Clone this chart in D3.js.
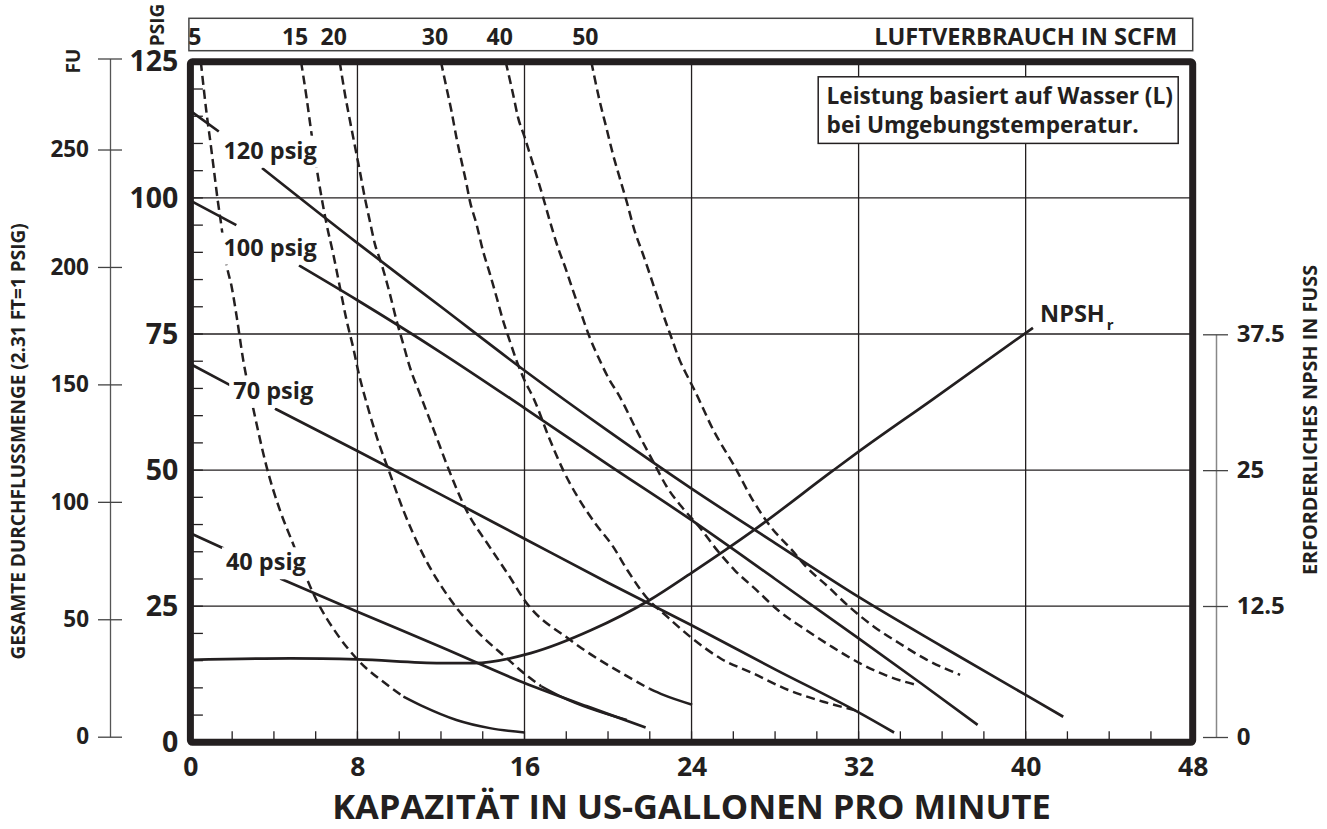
<!DOCTYPE html>
<html><head><meta charset="utf-8">
<script src="https://cdn.jsdelivr.net/npm/d3@7"></script>
<style>
html,body{margin:0;padding:0;background:#fff;}
svg{display:block;}
text{font-family:"Open Sans",sans-serif;font-weight:700;fill:#231f20;}
</style></head><body>
<svg id="chart" width="1327" height="829"></svg>
<script>
// ---------- data ----------
const xTicks = [0, 8, 16, 24, 32, 40, 48];
const yTicks = [0, 25, 50, 75, 100, 125];
const ftTicks = [0, 50, 100, 150, 200, 250];
const npshTicks = [0, 12.5, 25, 37.5];
const scfmNames = ["5", "15", "20", "30", "40", "50"];

// pump curves [gpm, psig]; null = break where the label sits
const pump120 = [[0,116.0],[1.36,112.2],null,[3.43,105.5],[8,91.7],[12,80.0],[16,68.3],[20,57.2],[24,46.6],[28,36.6],[32,26.7],[36,17.6],[40,8.7],[41.8,4.7]];
const pump100 = [[0,99.5],[2.2,95.0],null,[5.2,87.6],[8,81.2],[12,71.6],[16,61.4],[20,51.0],[24,40.8],[28,30.0],[32,19.1],[35,10.8],[37.7,3.2]];
const pump70  = [[0,69.5],[1.9,65.6],null,[4.05,61.3],[8,53.5],[12,45.5],[16,37.4],[20,29.3],[24,21.5],[28,13.4],[32,5.5],[33.7,1.8]];
const pump40  = [[0,38.4],[1.6,35.6],null,[4.3,30.1],[8,24.0],[12,17.5],[16,10.9],[19,6.6],[21.8,2.7]];

// air consumption curves (SCFM) [gpm, psig]
const scfm5  = [[0.5,125],[0.65,119.7],[0.78,115.4],[0.97,109.9],[1.13,105.0],[1.31,99.5],[1.45,95.8],[1.74,87.6],[1.98,83.6],[2.22,78.1],[2.53,70.2],[3.01,61.3],[3.65,50.6],[4.29,42.6],[4.85,37.1],[6.04,26.1],[7.0,20.0],[8.03,15.1],[9.55,10.2],[10.2,8.4]];
const scfm5Tail = [[10.2,8.4],[11.14,6.6],[12.74,4.1],[14.34,2.6],[16.0,1.8]];
const scfm15 = [[5.3,125],[5.56,118.5],[5.76,112.9],[6.04,105.6],[6.28,100.1],[6.52,95.2],[6.84,89.7],[7.16,83.6],[7.48,77.5],[7.79,72.6],[8.03,68.3],[8.5,61.5],[8.95,55.8],[9.55,49.4],[10.2,42.6],[11.1,34.8],[12.4,26.5],[13.7,20.5],[15.1,15.6],[16.1,12.3],[16.8,10.3]];
const scfm15Tail = [[16.8,10.3],[17.85,8.2],[20.9,4.1]];
const scfm20 = [[7.15,125],[7.40,119.1],[7.64,114.2],[7.92,108.7],[8.11,105.0],[8.35,100.1],[8.59,95.8],[8.83,91.6],[9.15,87.9],[9.55,82.4],[9.87,77.5],[10.19,73.2],[10.51,68.9],[10.99,64.0],[11.78,56.1],[12.26,51.2],[13.22,42.6],[14.33,35.9],[15.29,30.4],[16.0,26.1],[18.19,18.8],[20.93,12.1],[22.0,9.8]];
const scfm20Tail = [[22.0,9.8],[22.65,8.7],[24.03,6.9]];
const scfm30 = [[12.0,125],[12.26,120.3],[12.5,116.0],[12.74,111.1],[12.98,106.8],[13.22,102.6],[13.38,99.5],[13.7,95.2],[14.01,90.3],[14.34,86.1],[14.66,81.8],[14.97,77.5],[15.29,73.8],[15.61,70.2],[15.93,67.1],[16.48,62.8],[17.16,56.1],[17.85,50.0],[18.54,45.1],[19.39,40.2],[20.25,35.9],[20.93,31.6],[21.96,26.1],[22.65,23.7],[24.03,19.1],[25.39,15.4],[26.93,12.7],[28.64,9.6],[30.36,7.4],[31.9,5.8]];
const scfm40 = [[15.1,125],[15.45,119.1],[15.69,114.8],[16.01,111.1],[16.41,106.2],[16.89,100.1],[17.21,95.8],[17.6,90.9],[18.0,86.7],[18.32,83.0],[18.72,78.7],[19.12,74.4],[19.6,70.2],[20.08,66.5],[20.47,64.1],[21.45,56.7],[22.13,51.8],[22.82,46.9],[23.67,42.6],[24.36,39.6],[25.22,35.3],[26.07,31.6],[27.1,28.0],[28.13,24.3],[29.5,20.6],[30.7,17.6],[32.07,14.5],[33.44,12.1],[34.8,10.5]];
const scfm50 = [[19.2,125],[19.6,117.8],[19.92,112.9],[20.23,108.1],[20.55,103.8],[20.88,99.5],[21.27,94.0],[21.67,89.7],[21.99,86.1],[22.31,82.4],[22.63,78.7],[23.03,74.4],[23.43,70.2],[23.82,67.1],[24.14,64.7],[25.05,57.3],[26.07,50.6],[26.93,44.5],[27.79,39.6],[28.81,35.3],[29.5,32.2],[30.53,28.6],[31.55,24.9],[32.75,21.2],[33.95,18.2],[35.15,15.4],[36.86,12.4]];

// required NPSH [gpm, feet]
const npshR = [[0,7.35],[4.8,7.5],[8,7.4],[12,7.05],[13.6,7.05],[16.3,8.0],[19.2,10.2],[22,13.05],[24,15.55],[27,19.5],[30.8,25.0],[32,26.7],[35.5,31.45],[40.35,38.1]];

// ---------- drawing ----------
const ink = "#231f20";
const svg = d3.select("#chart");

const x = d3.scaleLinear().domain([0, 48]).range([190.4, 1192.7]);
const y = d3.scaleLinear().domain([0, 125]).range([742.3, 61.8]);
const ft = d3.scaleLinear().domain([0, 125 * 2.31]).range([736.7, 58.5]);
const npsh = d3.scaleLinear().domain([0, 12.5, 37.5]).range([737, 606, 334.3]);

// grid
svg.append("g").selectAll("line").data(xTicks.filter(d => d > 0 && d < 48)).join("line")
  .attr("x1", d => x(d)).attr("x2", d => x(d)).attr("y1", y(0)).attr("y2", y(125))
  .attr("stroke", ink).attr("stroke-width", 1.3);
svg.append("g").selectAll("line").data(yTicks.filter(d => d > 0 && d < 125)).join("line")
  .attr("y1", d => y(d)).attr("y2", d => y(d)).attr("x1", x(0)).attr("x2", x(48))
  .attr("stroke", ink).attr("stroke-width", 1.3);

// minor ticks inside the frame
svg.append("g").selectAll("line").data(d3.range(5, 125, 5)).join("line")
  .attr("x1", x(0)).attr("x2", x(0) + 12.5).attr("y1", d => y(d)).attr("y2", d => y(d))
  .attr("stroke", ink).attr("stroke-width", 1.3);
svg.append("g").selectAll("line").data(d3.range(2, 48, 2)).join("line")
  .attr("y1", y(0)).attr("y2", y(0) - 11).attr("x1", d => x(d)).attr("x2", d => x(d))
  .attr("stroke", ink).attr("stroke-width", 1.3);

const line = d3.line().defined(d => d != null).x(d => x(d[0])).y(d => y(d[1])).curve(d3.curveMonotoneX);
const lineN = d3.line().x(d => x(d[0])).y(d => npsh(d[1])).curve(d3.curveMonotoneX);

// SCFM dashed curves
const scfmCurves = [scfm5, scfm15, scfm20, scfm30, scfm40, scfm50];
svg.append("g").selectAll("path").data(scfmCurves).join("path")
  .attr("d", line).attr("fill", "none").attr("stroke", ink)
  .attr("stroke-width", 2.5).attr("stroke-dasharray", "9,5");
svg.append("g").selectAll("path").data([scfm5Tail, scfm15Tail, scfm20Tail]).join("path")
  .attr("d", line).attr("fill", "none").attr("stroke", ink).attr("stroke-width", 2.5);

// pump curves
svg.append("g").selectAll("path").data([pump120, pump100, pump70, pump40]).join("path")
  .attr("d", line).attr("fill", "none").attr("stroke", ink).attr("stroke-width", 2.7);

// NPSH curve
svg.append("path").datum(npshR).attr("d", lineN).attr("fill", "none")
  .attr("stroke", ink).attr("stroke-width", 2.7);

// curve labels with white background
const curveLabels = [
  {t: "120 psig", gx: 1.58, py: 107.2},
  {t: "100 psig", gx: 1.58, py: 89.4},
  {t: "70 psig", gx: 2.05, py: 63.1},
  {t: "40 psig", gx: 1.70, py: 31.6}
];
curveLabels.forEach(l => {
  const g = svg.append("g");
  const t = g.append("text").attr("x", x(l.gx)).attr("y", y(l.py))
    .attr("font-size", 23.5).text(l.t);
  const b = t.node().getBBox();
  g.insert("rect", "text").attr("x", b.x - 4).attr("y", b.y + 2)
    .attr("width", b.width + 8).attr("height", b.height).attr("fill", "#fff");
});

// NPSHr label
const nl = svg.append("text").attr("x", x(40.69)).attr("y", y(77.2)).attr("font-size", 23.5);
nl.append("tspan").text("NPSH");
nl.append("tspan").attr("font-size", 15).attr("dy", 8).attr("dx", 2).text("r");

// frame
svg.append("rect").attr("x", x(0)).attr("y", y(125))
  .attr("width", x(48) - x(0)).attr("height", y(0) - y(125))
  .attr("fill", "none").attr("stroke", ink).attr("stroke-width", 7).attr("rx", 2);

// note box
const nbRight = x(48) - 14.5, nbTop = y(125) + 15, nbW = 360, nbH = 66.6;
svg.append("rect").attr("x", nbRight - nbW).attr("y", nbTop).attr("width", nbW).attr("height", nbH)
  .attr("fill", "#fff").attr("stroke", ink).attr("stroke-width", 1.5);
svg.append("text").attr("x", nbRight - nbW + 8.4).attr("y", nbTop + 27.3).attr("font-size", 22.6)
  .text("Leistung basiert auf Wasser (L)");
svg.append("text").attr("x", nbRight - nbW + 8.4).attr("y", nbTop + 56.3).attr("font-size", 22.6)
  .text("bei Umgebungstemperatur.");

// top SCFM box
svg.append("rect").attr("x", x(0) - 1.5).attr("y", 18.3).attr("width", x(48) - x(0) + 1.5).attr("height", 32.4)
  .attr("fill", "none").attr("stroke", "#444").attr("stroke-width", 1.5);
svg.append("g").selectAll("text").data(scfmCurves).join("text")
  .attr("x", d => x(d[0][0]) - 6).attr("y", 44.5).attr("text-anchor", "middle")
  .attr("font-size", 23).text((d, i) => scfmNames[i]);
svg.append("text").attr("x", x(48) - 15.5).attr("y", 44.5).attr("text-anchor", "end")
  .attr("font-size", 23.6).text("LUFTVERBRAUCH IN SCFM");

// main left axis
const axL = svg.append("g").attr("transform", `translate(${x(0) - 12},0)`)
  .call(d3.axisLeft(y).tickValues(yTicks).tickSize(0).tickPadding(0).tickFormat(d => d));
axL.select(".domain").remove();
axL.selectAll("text").attr("font-size", 28.5).attr("fill", ink);
axL.attr("font-family", null).attr("font-size", null);

// main bottom axis
const axB = svg.append("g").attr("transform", `translate(0,${y(0) + 14.4})`)
  .call(d3.axisBottom(x).tickValues(xTicks).tickSize(0).tickPadding(0).tickFormat(d => d));
axB.select(".domain").remove();
axB.selectAll("text").attr("font-size", 26.5).attr("fill", ink);
axB.attr("font-family", null).attr("font-size", null);

// feet axis (outer left)
const axF = svg.append("g").attr("transform", "translate(110,0)")
  .call(d3.axisLeft(ft).tickValues(ftTicks.concat([125 * 2.31])).tickSizeInner(12).tickSizeOuter(0).tickPadding(9)
    .tickFormat(d => ftTicks.includes(d) ? d : ""));
axF.select(".domain").attr("stroke", "#555").attr("stroke-width", 1.3);
axF.selectAll(".tick line").attr("x1", 12).attr("stroke", "#444").attr("stroke-width", 1.3);
axF.selectAll("text").attr("font-size", 22.5).attr("fill", ink);
axF.attr("font-family", null).attr("font-size", null);

// NPSH axis (right)
const axN = svg.append("g").attr("transform", "translate(1216,0)")
  .call(d3.axisRight(npsh).tickValues(npshTicks).tickSizeInner(12).tickSizeOuter(0).tickPadding(8.7)
    .tickFormat(d => String(d)));
axN.select(".domain").attr("stroke", "#888").attr("stroke-width", 1.5);
axN.selectAll(".tick line").attr("x1", -13).attr("stroke", "#444").attr("stroke-width", 1.3);
axN.selectAll("text").attr("font-size", 24).attr("fill", ink);
axN.attr("font-family", null).attr("font-size", null);

// titles
svg.append("text").attr("x", x(24)).attr("y", 819).attr("text-anchor", "middle")
  .attr("font-size", 34.5).text("KAPAZITÄT IN US-GALLONEN PRO MINUTE");
const rot = (cx, cy, size, txt) => svg.append("text")
  .attr("transform", `translate(${cx},${cy}) rotate(-90)`).attr("text-anchor", "middle")
  .attr("dy", "0.36em").attr("font-size", size).text(txt);
rot(18.3, 441.5, 19, "GESAMTE DURCHFLUSSMENGE (2.31 FT=1 PSIG)");
rot(1310, 420, 19.8, "ERFORDERLICHES NPSH IN FUSS");
rot(157, 25, 19, "PSIG");
rot(73, 61, 19, "FU");
</script>
</body></html>
